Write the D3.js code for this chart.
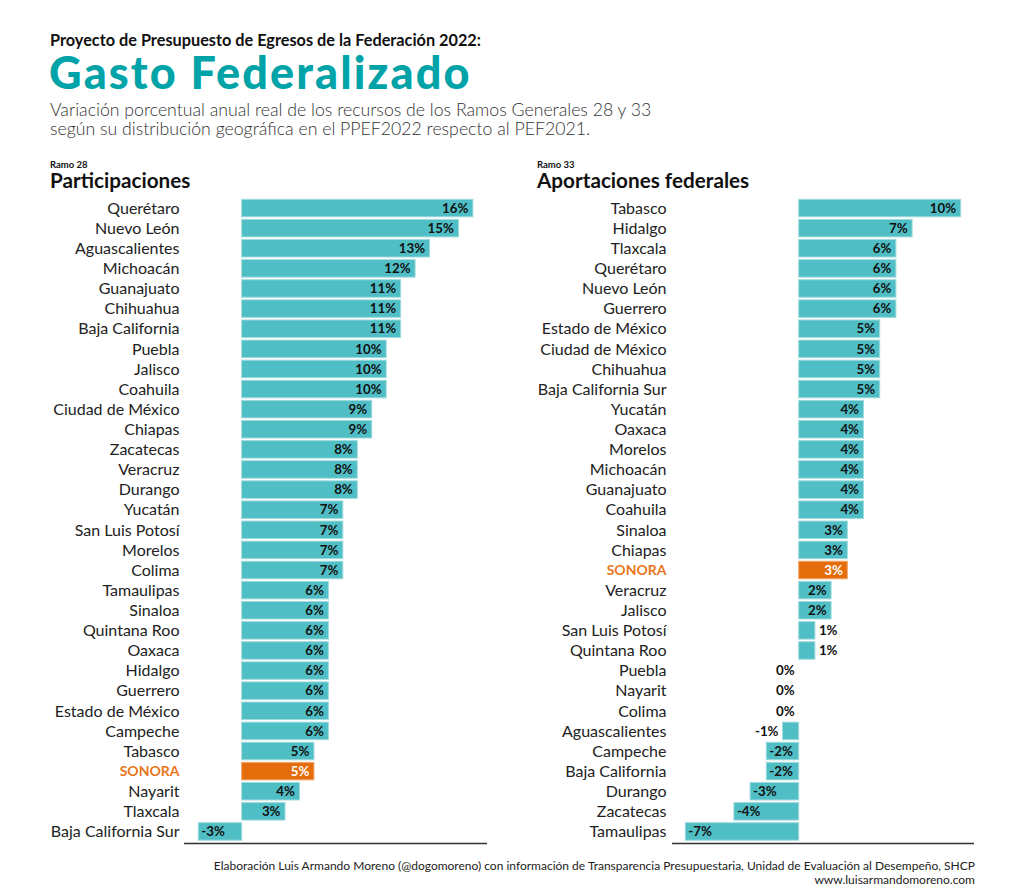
<!DOCTYPE html>
<html>
<head>
<meta charset="utf-8">
<script src="https://cdn.jsdelivr.net/npm/d3@7"></script>
<style>
  html, body { margin: 0; padding: 0; background: #fff; }
  svg { display: block; font-family: Lato, "Noto Sans", sans-serif; }
</style>
</head>
<body>
<svg id="chart" width="1024" height="896"></svg>
<script>
// ---- Data ----
const ramo28States = ["Querétaro","Nuevo León","Aguascalientes","Michoacán","Guanajuato","Chihuahua","Baja California","Puebla","Jalisco","Coahuila","Ciudad de México","Chiapas","Zacatecas","Veracruz","Durango","Yucatán","San Luis Potosí","Morelos","Colima","Tamaulipas","Sinaloa","Quintana Roo","Oaxaca","Hidalgo","Guerrero","Estado de México","Campeche","Tabasco","SONORA","Nayarit","Tlaxcala","Baja California Sur"];
const ramo28Values = [16,15,13,12,11,11,11,10,10,10,9,9,8,8,8,7,7,7,7,6,6,6,6,6,6,6,6,5,5,4,3,-3];

const ramo33States = ["Tabasco","Hidalgo","Tlaxcala","Querétaro","Nuevo León","Guerrero","Estado de México","Ciudad de México","Chihuahua","Baja California Sur","Yucatán","Oaxaca","Morelos","Michoacán","Guanajuato","Coahuila","Sinaloa","Chiapas","SONORA","Veracruz","Jalisco","San Luis Potosí","Quintana Roo","Puebla","Nayarit","Colima","Aguascalientes","Campeche","Baja California","Durango","Zacatecas","Tamaulipas"];
const ramo33Values = [10,7,6,6,6,6,5,5,5,5,4,4,4,4,4,4,3,3,3,2,2,1,1,0,0,0,-1,-2,-2,-3,-4,-7];

const highlight = "SONORA";

// ---- Styles ----
const TEAL = "#4fbec5", TEAL_STROKE = "#9fdadd", ORANGE = "#e46c0a", ORANGE_TEXT = "#e9761c", TITLE = "#00a3a8";

const svg = d3.select("#chart");

// Titles
svg.append("text").attr("x", 50).attr("y", 45.5)
  .attr("font-size", 16.3).attr("font-weight", 700).attr("fill", "#111")
  .text("Proyecto de Presupuesto de Egresos de la Federación 2022:");
svg.append("text").attr("x", 49).attr("y", 89)
  .attr("font-size", 45).attr("font-weight", 900).attr("letter-spacing", 2.1).attr("fill", TITLE)
  .text("Gasto Federalizado");
svg.append("text").attr("x", 50).attr("y", 116)
  .attr("font-size", 17.7).attr("font-weight", 300).attr("fill", "#333")
  .text("Variación porcentual anual real de los recursos de los Ramos Generales 28 y 33");
svg.append("text").attr("x", 50).attr("y", 135)
  .attr("font-size", 17.7).attr("font-weight", 300).attr("fill", "#333")
  .text("según su distribución geográfica en el PPEF2022 respecto al PEF2021.");

// Footer
svg.append("text").attr("x", 975).attr("y", 870).attr("text-anchor", "end")
  .attr("font-size", 12).attr("fill", "#222")
  .text("Elaboración Luis Armando Moreno (@dogomoreno) con información de Transparencia Presupuestaria, Unidad de Evaluación al Desempeño, SHCP");
svg.append("text").attr("x", 975).attr("y", 884).attr("text-anchor", "end")
  .attr("font-size", 12).attr("fill", "#222")
  .text("www.luisarmandomoreno.com");

function panel(opts) {
  const { states, values, kicker, title, hx, labelX, xDomain, xRange, axisX } = opts;
  const g = svg.append("g");

  g.append("text").attr("x", hx).attr("y", 167.5).attr("font-size", 9.5).attr("font-weight", 700)
    .attr("fill", "#111").text(kicker);
  g.append("text").attr("x", hx).attr("y", 188).attr("font-size", 20.7).attr("font-weight", 700)
    .attr("fill", "#111").text(title);

  const y = d3.scaleBand().domain(states).range([198, 841.5]).paddingInner(0.13).paddingOuter(0.065);
  const x = d3.scaleLinear().domain(xDomain).range(xRange);

  const data = states.map((s, i) => ({ s, v: values[i] }));

  // category labels
  g.selectAll("text.cat").data(data).join("text").attr("class", "cat")
    .attr("x", labelX).attr("y", d => y(d.s) + y.bandwidth() / 2).attr("dy", "0.36em")
    .attr("text-anchor", "end")
    .attr("font-size", d => d.s === highlight ? 14 : 16)
    .attr("font-weight", d => d.s === highlight ? 700 : 400)
    .attr("fill", d => d.s === highlight ? ORANGE_TEXT : "#222")
    .text(d => d.s);

  // bars
  g.selectAll("rect.bar").data(data.filter(d => d.v !== 0)).join("rect").attr("class", "bar")
    .attr("x", d => x(Math.min(0, d.v))).attr("y", d => y(d.s))
    .attr("width", d => Math.abs(x(d.v) - x(0))).attr("height", y.bandwidth())
    .attr("fill", d => d.s === highlight ? ORANGE : TEAL)
    .attr("stroke", d => d.s === highlight ? "#f2a66a" : TEAL_STROKE).attr("stroke-width", 1);

  // value labels
  g.selectAll("text.val").data(data).join("text").attr("class", "val")
    .attr("y", d => y(d.s) + y.bandwidth() / 2).attr("dy", "0.36em")
    .attr("font-size", 13.3).attr("font-weight", 700)
    .each(function (d) {
      const t = d3.select(this).text(String(d.v) + "%");
      const w = this.getComputedTextLength();
      const len = Math.abs(x(d.v) - x(0));
      const inside = len > w + 7;
      let tx, anchor;
      if (d.v > 0) {
        if (inside) { tx = x(d.v) - 4.5; anchor = "end"; } else { tx = x(d.v) + 4; anchor = "start"; }
      } else {
        if (inside) { tx = x(d.v) + 3; anchor = "start"; } else { tx = x(d.v) - 4; anchor = "end"; }
      }
      t.attr("x", tx).attr("text-anchor", anchor)
        .attr("fill", d.s === highlight && inside ? "#fff" : "#111");
    });

  // baseline
  g.append("line").attr("x1", axisX[0]).attr("x2", axisX[1]).attr("y1", 843.5).attr("y2", 843.5)
    .attr("stroke", "#333").attr("stroke-width", 1.5);
}

panel({
  states: ramo28States, values: ramo28Values, kicker: "Ramo 28", title: "Participaciones",
  hx: 50, labelX: 179.5, xDomain: [-3, 16], xRange: [198.3, 472.9], axisX: [184, 487]
});
panel({
  states: ramo33States, values: ramo33Values, kicker: "Ramo 33", title: "Aportaciones federales",
  hx: 537, labelX: 666.5, xDomain: [-7, 10], xRange: [685.3, 960.7], axisX: [672, 974]
});
</script>
</body>
</html>
